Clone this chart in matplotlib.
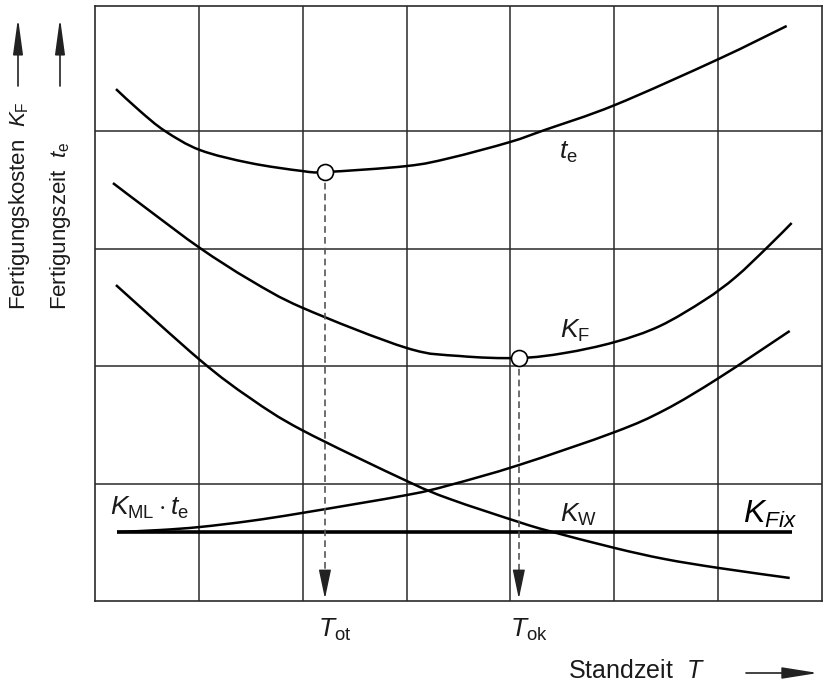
import numpy as np
import matplotlib
matplotlib.use("Agg")
import matplotlib.pyplot as plt
from matplotlib.path import Path
from matplotlib.patches import PathPatch

plt.rcParams['font.family'] = ['Liberation Sans', 'DejaVu Sans']
plt.rcParams['mathtext.fontset'] = 'custom'
plt.rcParams['mathtext.rm'] = 'Liberation Sans'
plt.rcParams['mathtext.it'] = 'Liberation Sans:italic'

# curve readings (x = Standzeit in grid units, y = cost/time in grid units)
te_x = [0.202, 0.433, 0.674, 1.011, 1.492, 1.992, 2.214, 3.003, 3.417, 3.994, 4.331, 5.005, 6.006, 6.660]
te_y = [4.357, 4.170, 4.000, 3.838, 3.728, 3.660, 3.651, 3.702, 3.770, 3.906, 4.009, 4.221, 4.613, 4.894]

kf_x = [0.173, 0.529, 1.011, 1.492, 2.002, 3.003, 3.513, 4.081, 4.524, 5.005, 5.438, 5.871, 6.169, 6.477, 6.708]
kf_y = [3.557, 3.319, 3.004, 2.732, 2.494, 2.153, 2.085, 2.068, 2.111, 2.204, 2.340, 2.562, 2.757, 3.013, 3.217]

kw_x = [0.202, 1.011, 1.492, 1.992, 3.003, 3.417, 4.081, 4.370, 5.005, 5.486, 6.006, 6.689]
kw_y = [2.689, 2.051, 1.728, 1.455, 1.021, 0.868, 0.672, 0.596, 0.451, 0.357, 0.281, 0.196]

kml_x = [0.212, 0.626, 1.011, 1.492, 1.992, 3.003, 3.417, 4.081, 5.005, 5.486, 6.006, 6.689]
kml_y = [0.587, 0.604, 0.630, 0.681, 0.749, 0.902, 0.987, 1.157, 1.438, 1.626, 1.898, 2.298]

kfix_x = [0.212, 6.708]
kfix_y = [0.587, 0.587]

# optimum points
T_ot, te_min = 2.214, 3.651
T_ok, kf_min = 4.081, 2.068

ink = '#1a1a1a'


def smooth_curve(ax, xs, ys, lw=1.8):
    # draw a smooth line through the read points (Catmull-Rom as Bezier segments)
    pts = np.column_stack([xs, ys])
    verts = [pts[0]]
    codes = [Path.MOVETO]
    n = len(pts)
    for i in range(n - 1):
        p0 = pts[i - 1] if i > 0 else pts[i]
        p1, p2 = pts[i], pts[i + 1]
        p3 = pts[i + 2] if i + 2 < n else pts[i + 1]
        verts += [p1 + (p2 - p0) / 6, p2 - (p3 - p1) / 6, p2]
        codes += [Path.CURVE4] * 3
    ax.add_patch(PathPatch(Path(verts, codes), fill=False, ec='black', lw=lw, capstyle='butt'))


fig = plt.figure(figsize=(8.32, 6.85), dpi=100)
ax = fig.add_axes([95/832, 84/685, 727/832, 595/685])
ax.set_xlim(0, 7)
ax.set_ylim(0, 5.064)
ax.set_xticks(range(1, 7))
ax.set_yticks(range(1, 5))
ax.tick_params(length=0, labelbottom=False, labelleft=False)
ax.grid(True, color='#2a2a2a', lw=1.1)
for s in ax.spines.values():
    s.set_color('#2a2a2a')
    s.set_linewidth(1.2)
ax.set_axisbelow(True)

smooth_curve(ax, te_x, te_y)
smooth_curve(ax, kf_x, kf_y)
smooth_curve(ax, kw_x, kw_y)
smooth_curve(ax, kml_x, kml_y)
ax.plot(kfix_x, kfix_y, color='black', lw=2.6, solid_capstyle='butt')

# dashed drop lines with arrow heads
for tx, ty in [(T_ot, te_min), (T_ok, kf_min)]:
    ax.plot([tx, tx], [ty, 0.22], color='#555555', lw=1.2, dashes=(4, 2.5))
    ax.annotate('', xy=(tx, 0.02), xytext=(tx, 0.23),
                arrowprops=dict(arrowstyle='-|>,head_length=1.8,head_width=0.38',
                                mutation_scale=10, color='#222222', lw=1.0,
                                shrinkA=0, shrinkB=0))

ax.plot([T_ot, T_ok], [te_min, kf_min], 'o', ms=11.5, mfc='white', mec='black', mew=1.2, zorder=5)

# curve labels
ax.text(4.562, 3.821, r'$t_\mathrm{e}$', fontsize=19, color=ink, ha='center', va='center')
ax.text(4.620, 2.298, r'$K_\mathrm{F}$', fontsize=19, color=ink, ha='center', va='center')
ax.text(4.658, 0.732, r'$K_\mathrm{W}$', fontsize=19, color=ink, ha='center', va='center')
ax.text(6.497, 0.740, r'$K_{Fix}$', fontsize=23, color='black', ha='center', va='center')
ax.text(0.520, 0.791, r'$K_\mathrm{ML}\cdot t_\mathrm{e}$', fontsize=19, color=ink, ha='center', va='center')

ax.text(T_ot + 0.09, -0.247, r'$T_\mathrm{ot}$', fontsize=19, color=ink, ha='center', va='center', clip_on=False)
ax.text(T_ok + 0.10, -0.247, r'$T_\mathrm{ok}$', fontsize=19, color=ink, ha='center', va='center', clip_on=False)

# axis titles
fig.text(568/832, 1 - 678/685, r'Standzeit  $T$', fontsize=18, color=ink, ha='left', va='baseline')
ax.annotate('', xy=(818/832, 1 - 673/685), xytext=(746/832, 1 - 673/685),
            xycoords='figure fraction', textcoords='figure fraction',
            arrowprops=dict(arrowstyle='-|>,head_length=2.2,head_width=0.35',
                            mutation_scale=10, color='#222222', lw=1.2, shrinkA=0, shrinkB=0))

fig.text(25/832, 1 - 310/685, r'Fertigungskosten  $K_\mathrm{F}$', fontsize=16, color=ink,
         rotation=90, rotation_mode='anchor', ha='left', va='baseline')
fig.text(66/832, 1 - 310/685, r'Fertigungszeit  $t_\mathrm{e}$', fontsize=16, color=ink,
         rotation=90, rotation_mode='anchor', ha='left', va='baseline')
for px in [18, 60]:
    ax.annotate('', xy=(px/832, 1 - 18/685), xytext=(px/832, 1 - 86/685),
                xycoords='figure fraction', textcoords='figure fraction',
                arrowprops=dict(arrowstyle='-|>,head_length=2.2,head_width=0.3',
                                mutation_scale=10, color='#222222', lw=1.2, shrinkA=0, shrinkB=0))

fig.savefig('out.png', dpi=100)
